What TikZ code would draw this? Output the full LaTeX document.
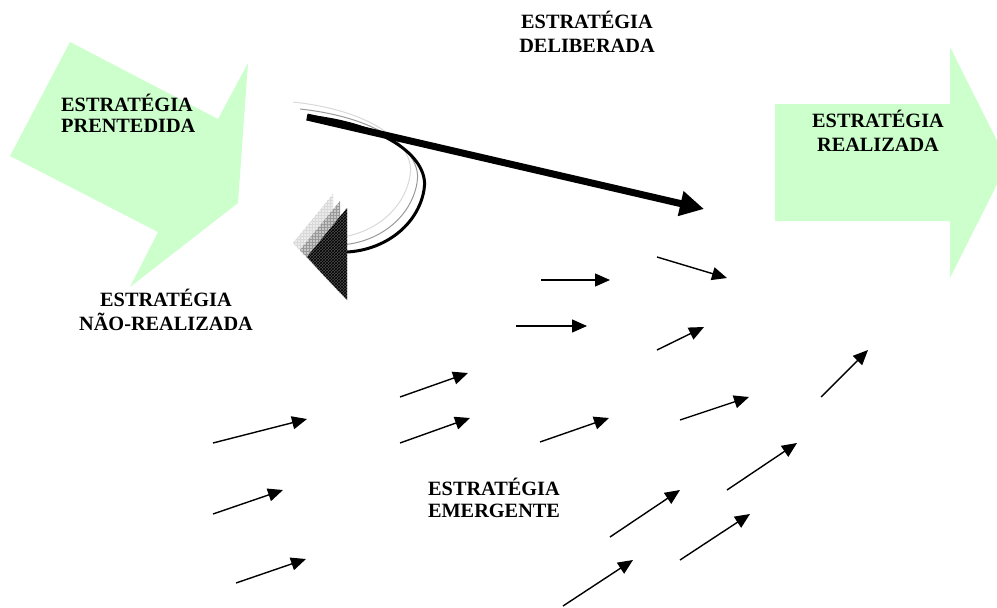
\documentclass[tikz,border=0pt]{standalone}
\usepackage{fontspec}
\setmainfont{Liberation Serif}
\usepackage{tikz}
\usetikzlibrary{arrows.meta}
\usetikzlibrary{patterns}

\definecolor{verdeclaro}{RGB}{204,255,204}
\newcommand{\rotulo}[1]{\fontsize{20.3}{#1}\selectfont\bfseries}

\begin{document}
\begin{tikzpicture}[x=1pt,y=-1pt,
        seta/.style={line width=1.4pt,-{Triangle[length=15pt,width=13pt]}},
        bloco/.style={fill=verdeclaro}]
        \clip (0,0) rectangle (997,608);

        % setas verdes
        \fill[bloco] (70,42) -- (218,119) -- (248,63) -- (238,203) -- (130,287) -- (158,232) -- (10,156) -- cycle;
        \fill[bloco] (775,104) -- (950,104) -- (950,47) -- (1008,162.5) -- (950,278) -- (950,221) -- (775,221) -- cycle;

        % seta curva (nao-realizada)
        \foreach \d/\c/\f in {14/black!15/black!8, 7/black!40/black!22}{
            \begin{scope}[shift={(-\d,-\d)}]
                \draw[\c, line width=1pt] (307,116) .. controls (390,125) and (430,160) .. (424,190) .. controls (418,225) and (385,250) .. (347,252);
                \fill[\f, postaction={pattern=grid, pattern color=\c}] (347,208) -- (307,257) -- (347,300) -- cycle;
            \end{scope}
        }
        \draw[line width=3pt] (307,116) .. controls (390,125) and (430,160) .. (424,190) .. controls (418,225) and (385,250) .. (347,252);
        \fill[black!70, postaction={pattern=crosshatch, pattern color=black}] (347,208) -- (307,257) -- (347,300) -- cycle;

        % seta deliberada
        \draw[line width=7pt,-{Triangle[length=24pt,width=24pt]}] (307,117) -- (704,209);

        % setas emergentes
        \foreach \a/\b in {{541,280}/{610,280}, {657,257}/{727,278}, {516,326}/{587,326},
                {657,350}/{704,327}, {400,397}/{468,373}, {213,443}/{307,419},
                {400,443}/{470,418}, {540,442}/{609,418}, {680,420}/{749,397},
                {821,397}/{868,350}, {213,514}/{283,490}, {727,490}/{797,443},
                {610,537}/{680,490}, {236,583}/{306,559}, {680,560}/{750,514},
                {563,606}/{633,560}}
            \draw[seta] (\a) -- (\b);

        \node[font=\rotulo{24}, align=center, inner sep=0] (deliberada) at (587,32) {ESTRATÉGIA\\DELIBERADA};
        \node[font=\rotulo{21}, align=left, anchor=west, inner sep=0] (pretendida) at (61,113.5) {ESTRATÉGIA\\PRENTEDIDA};
        \node[font=\rotulo{23.5}, align=center, inner sep=0] (realizada) at (878,130.7) {ESTRATÉGIA\\REALIZADA};
        \node[font=\rotulo{24}, align=center, inner sep=0] (naorealizada) at (166,310) {ESTRATÉGIA\\NÃO-REALIZADA};
        \node[font=\rotulo{22}, align=center, inner sep=0] (emergente) at (494,498) {ESTRATÉGIA\\EMERGENTE};
    \end{tikzpicture}
\end{document}
